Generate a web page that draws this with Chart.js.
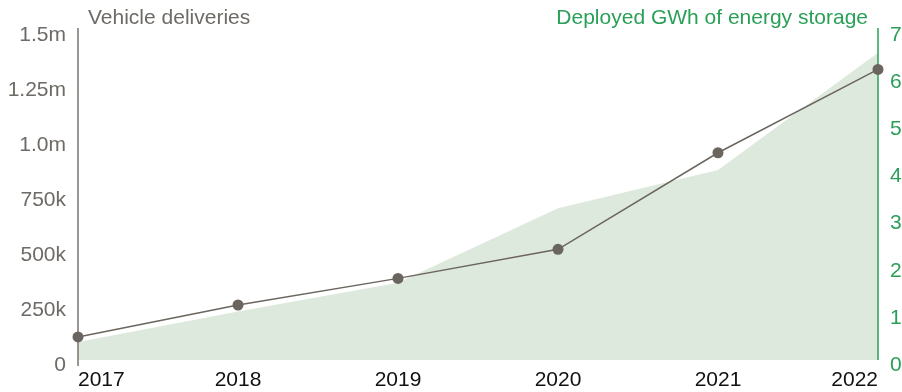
<!DOCTYPE html>
<html>
<head>
<meta charset="utf-8">
<script src="https://cdn.jsdelivr.net/npm/chart.js@4/dist/chart.umd.min.js"></script>
<style>
  html, body { margin: 0; padding: 0; background: #fff; }
  #wrap { position: relative; width: 902px; height: 392px; }
</style>
</head>
<body>
<div id="wrap"><canvas id="deliveriesChart"></canvas></div>
<script>
const years = ['2017', '2018', '2019', '2020', '2021', '2022'];
const vehicleDeliveries = [105000, 250000, 371000, 503000, 942000, 1321000];
const storageGWh = [0.38, 1.03, 1.64, 3.22, 4.03, 6.52];
const deliveryTickLabels = ['0', '250k', '500k', '750k', '1.0m', '1.25m', '1.5m'];
const storageTickLabels = ['0', '1', '2', '3', '4', '5', '6', '7'];

const GRAY = '#6e6a66';
const AXIS_GRAY = '#78746f';
const LINE_GRAY = '#6a655f';
const GREEN = '#2a9f57';
const FILL_GREEN = '#dee9dd';
const FONT = '"Liberation Sans", Arial, Helvetica, sans-serif';

// axis lines go between the area fill and the deliveries line,
// titles sit above the plot
const axisDecor = {
  id: 'axisDecor',
  beforeDatasetDraw(chart, args) {
    if (args.index !== 0) return;
    const { ctx, chartArea } = chart;
    ctx.save();
    ctx.lineWidth = 1.5;
    ctx.strokeStyle = AXIS_GRAY;
    ctx.beginPath();
    ctx.moveTo(chartArea.left, chartArea.top - 2);
    ctx.lineTo(chartArea.left, chartArea.bottom + 6);
    ctx.stroke();
    ctx.strokeStyle = GREEN;
    ctx.beginPath();
    ctx.moveTo(chartArea.right, chartArea.top - 2);
    ctx.lineTo(chartArea.right, chartArea.bottom);
    ctx.stroke();
    ctx.restore();
  },
  afterDraw(chart) {
    const { ctx, chartArea } = chart;
    ctx.save();
    ctx.font = '21px ' + FONT;
    ctx.textBaseline = 'middle';
    ctx.fillStyle = GRAY;
    ctx.textAlign = 'left';
    ctx.fillText('Vehicle deliveries', chartArea.left + 10, 18);
    ctx.fillStyle = GREEN;
    ctx.textAlign = 'right';
    ctx.fillText('Deployed GWh of energy storage', chartArea.right - 10, 18);
    ctx.restore();
  }
};

new Chart(document.getElementById('deliveriesChart'), {
  type: 'line',
  data: {
    labels: years,
    datasets: [
      {
        label: 'Vehicle deliveries',
        data: vehicleDeliveries,
        yAxisID: 'y',
        borderColor: LINE_GRAY,
        borderWidth: 1.5,
        pointBackgroundColor: LINE_GRAY,
        pointBorderWidth: 0,
        pointRadius: 5.5,
        tension: 0,
        fill: false,
        clip: false
      },
      {
        label: 'Deployed GWh of energy storage',
        data: storageGWh,
        yAxisID: 'y1',
        borderWidth: 0,
        pointRadius: 0,
        backgroundColor: FILL_GREEN,
        tension: 0,
        fill: 'origin'
      }
    ]
  },
  options: {
    responsive: true,
    maintainAspectRatio: false,
    animation: false,
    layout: { padding: { top: 30, left: 0, right: 0, bottom: 0 } },
    plugins: {
      legend: { display: false },
      tooltip: { enabled: false }
    },
    scales: {
      x: {
        offset: false,
        grid: { display: false, drawTicks: false },
        border: { display: false },
        ticks: {
          align: 'inner',
          maxRotation: 0,
          padding: 8,
          color: '#111',
          font: { family: FONT, size: 21 }
        },
        afterFit(scale) { scale.height = 32; }
      },
      y: {
        position: 'left',
        min: 0,
        max: 1500000,
        grid: { display: false, drawTicks: false },
        border: { display: false },
        ticks: {
          stepSize: 250000,
          padding: 12,
          labelOffset: 5,
          color: GRAY,
          font: { family: FONT, size: 21 },
          callback: (v, i) => deliveryTickLabels[i]
        },
        afterFit(scale) { scale.width = 78; }
      },
      y1: {
        position: 'right',
        min: 0,
        max: 7,
        grid: { display: false, drawTicks: false },
        border: { display: false },
        ticks: {
          stepSize: 1,
          padding: 12,
          labelOffset: 5,
          color: GREEN,
          font: { family: FONT, size: 21 },
          callback: (v, i) => storageTickLabels[i]
        },
        afterFit(scale) { scale.width = 24; }
      }
    }
  },
  plugins: [axisDecor]
});
</script>
</body>
</html>
